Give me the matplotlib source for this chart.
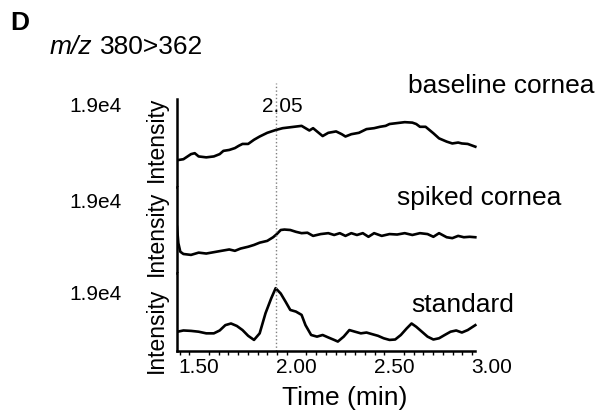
import numpy as np
import matplotlib
matplotlib.use("Agg")
import matplotlib.pyplot as plt
from matplotlib.ticker import FixedLocator

plt.rcParams['font.family'] = ['Liberation Sans', 'DejaVu Sans']

# baseline cornea trace (time in min, intensity in counts)
t_base = [1.390, 1.420, 1.459, 1.478, 1.498, 1.537, 1.576, 1.606, 1.625, 1.655,
          1.684, 1.704, 1.723, 1.752, 1.782, 1.811, 1.850, 1.893, 1.929, 1.968,
          2.026, 2.046, 2.066, 2.085, 2.105, 2.134, 2.163, 2.203, 2.232, 2.251,
          2.281, 2.320, 2.359, 2.398, 2.428, 2.457, 2.477, 2.516, 2.555, 2.594,
          2.614, 2.633, 2.662, 2.682, 2.702, 2.731, 2.770, 2.799, 2.829, 2.848,
          2.878, 2.917]
i_base = [5800, 6000, 7100, 7300, 6600, 6400, 6600, 7100, 7800, 8000,
          8400, 8900, 9300, 9300, 10200, 10900, 11700, 12300, 12700, 12900,
          13200, 12700, 12200, 12700, 12000, 11000, 11700, 12000, 11400, 10900,
          11400, 11700, 12500, 12700, 13000, 13200, 13600, 13800, 14000, 13900,
          13600, 13000, 13000, 12300, 11600, 10500, 9800, 9400, 9600, 9400,
          9300, 8700]

# spiked cornea trace
t_spk = [1.387, 1.394, 1.404, 1.420, 1.459, 1.498, 1.537, 1.576, 1.615, 1.655,
         1.684, 1.713, 1.752, 1.782, 1.811, 1.850, 1.880, 1.899, 1.919, 1.938,
         1.968, 1.997, 2.026, 2.056, 2.085, 2.124, 2.163, 2.193, 2.222, 2.251,
         2.281, 2.310, 2.340, 2.369, 2.398, 2.437, 2.477, 2.516, 2.555, 2.594,
         2.633, 2.672, 2.702, 2.731, 2.770, 2.799, 2.829, 2.858, 2.888, 2.917]
i_spk = [10200, 6600, 4700, 4200, 4000, 4500, 4300, 4600, 4900, 5200,
         4900, 5400, 5800, 6200, 6700, 7100, 7900, 8600, 9500, 9600,
         9500, 9100, 8800, 8900, 8200, 8600, 8800, 8400, 8800, 8200,
         8800, 8400, 8800, 8000, 8800, 8200, 8600, 8500, 8800, 8400,
         8800, 8600, 8000, 8800, 7900, 7700, 8200, 7900, 8000, 7900]

# standard trace
t_std = [1.390, 1.420, 1.459, 1.498, 1.537, 1.576, 1.606, 1.635, 1.664, 1.694,
         1.723, 1.752, 1.782, 1.811, 1.841, 1.870, 1.893, 1.919, 1.944, 1.968,
         1.997, 2.026, 2.046, 2.075, 2.105, 2.134, 2.163, 2.193, 2.212, 2.242,
         2.271, 2.300, 2.330, 2.359, 2.388, 2.418, 2.447, 2.477, 2.506, 2.535,
         2.565, 2.590, 2.614, 2.643, 2.672, 2.702, 2.731, 2.760, 2.790, 2.819,
         2.848, 2.878, 2.917]
i_std = [4700, 5000, 4900, 4700, 4300, 4300, 5000, 6300, 6700, 6100,
         5100, 3700, 2700, 4300, 9200, 12800, 15300, 14000, 12000, 10000,
         9600, 8800, 6300, 3900, 3500, 3900, 3300, 2700, 2300, 3500,
         5100, 4700, 4300, 4500, 4100, 3700, 3100, 2700, 2800, 3900,
         5500, 6700, 5900, 4700, 3500, 2800, 3100, 3900, 4700, 5000,
         4500, 5100, 6300]

traces = [(t_base, i_base), (t_spk, i_spk), (t_std, i_std)]
names = ["baseline cornea", "spiked cornea", "standard"]
ymax = 1.9e4
rt_mark = 1.895
xticks = [1.5, 2.0, 2.5, 3.0]
xticklabels = ["1.50", "2.00", "2.50", "3.00"]

fig = plt.figure(figsize=(5.97, 4.16), dpi=100)
W, H = 597.0, 416.0
x0, x1 = 176.6, 491.5
rows = [(99, 187), (187, 273), (273, 351)]

axes = []
for k, (top, bot) in enumerate(rows):
    ax = fig.add_axes([x0 / W, 1 - bot / H, (x1 - x0) / W, (bot - top) / H])
    t, y = traces[k]
    ax.plot(t, y, color='black', lw=1.9, solid_joinstyle='round')
    ax.set_xlim(1.385, 3.0)
    ax.set_ylim(0, ymax)
    for s in ['top', 'right']:
        ax.spines[s].set_visible(False)
    ax.spines['left'].set_linewidth(1.8)
    ax.set_yticks([])
    ext = (bot - 83) / (bot - top) if k == 0 else 1.0
    ax.axvline(rt_mark, ymin=0, ymax=ext, color='gray', ls=':', lw=1.0, clip_on=False)
    if k < 2:
        ax.spines['bottom'].set_visible(False)
        ax.set_xticks([])
    axes.append(ax)

ax3 = axes[2]
ax3.spines['bottom'].set_linewidth(1.8)
ax3.spines['bottom'].set_bounds(1.385, 2.917)
ax3.set_xticks(xticks)
ax3.set_xticklabels(xticklabels, fontsize=15)
ax3.xaxis.set_minor_locator(FixedLocator(np.arange(1.40, 2.91, 0.05)))
ax3.tick_params(axis='x', which='major', length=0, pad=5)
ax3.tick_params(axis='x', which='minor', length=3, width=1, direction='out')

# labels
fig.text(19.5 / W, 1 - 23 / H, "D", fontsize=19, fontweight='bold', ha='center', va='center')
fig.text(50 / W, 1 - 54 / H, "m/z", fontsize=19, style='italic', ha='left', va='baseline')
fig.text(100 / W, 1 - 54 / H, "380>362", fontsize=19, ha='left', va='baseline')

fig.text(595 / W, 1 - 93 / H, names[0], fontsize=19, ha='right', va='baseline')
fig.text(479 / W, 1 - 205 / H, names[1], fontsize=19, ha='center', va='baseline')
fig.text(463 / W, 1 - 312 / H, names[2], fontsize=19, ha='center', va='baseline')

for yc in [107, 202, 295]:
    fig.text(122 / W, 1 - yc / H, "1.9e4", fontsize=15, ha='right', va='center')
for yc in [139, 233, 330]:
    fig.text(156 / W, 1 - yc / H, "Intensity", fontsize=16.5, rotation=90,
             ha='center', va='center')

fig.text(282 / W, 1 - 107 / H, "2.05", fontsize=15, ha='center', va='center')
fig.text(345 / W, 1 - 398 / H, "Time (min)", fontsize=19, ha='center', va='center')

fig.savefig("out.png", dpi=100)
